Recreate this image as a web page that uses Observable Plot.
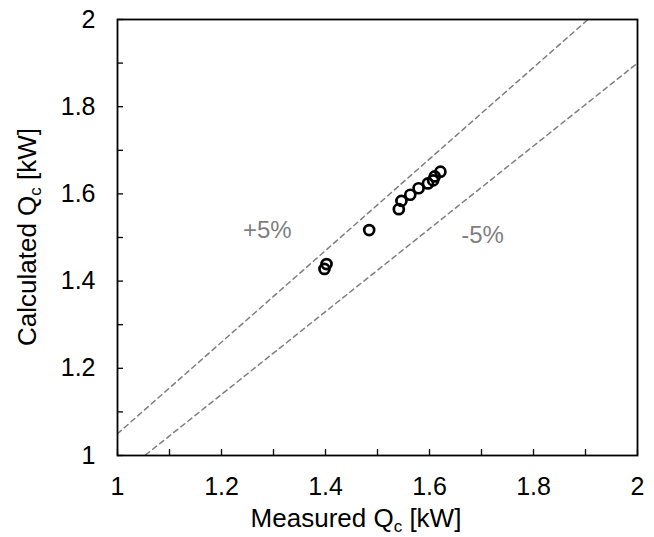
<!DOCTYPE html>
<html><head><meta charset="utf-8">
<script src="https://cdn.jsdelivr.net/npm/d3@7"></script>
<script src="https://cdn.jsdelivr.net/npm/@observablehq/plot@0.6"></script>
<style>body{margin:0;background:#fff}</style>
</head><body><div id="chart"></div>
<script>
const measured = [1.398, 1.402, 1.484, 1.541, 1.546, 1.563, 1.579, 1.597, 1.607, 1.610, 1.621];
const calculated = [1.428, 1.439, 1.517, 1.565, 1.584, 1.598, 1.613, 1.624, 1.631, 1.640, 1.651];
const refX = [1, 2];
const upperY = [1.05, 2.1];
const lowerY = [0.95, 1.9];
const bandLabels = ["+5%", "-5%"];
const bandLabelX = [1.288, 1.702];
const bandLabelY = [1.517, 1.506];
const majorTicks = [1, 1.2, 1.4, 1.6, 1.8, 2];
const minorTicks = d3.range(0, 11).map(i => 1 + i / 10);

const pts = measured.map((m, i) => ({m, c: calculated[i]}));
const font = "Liberation Sans, Arial, sans-serif";

const chart = Plot.plot({
  width: 654, height: 537,
  marginLeft: 117, marginRight: 17, marginTop: 19, marginBottom: 82,
  style: {fontFamily: font, fontSize: "25px", color: "#000", background: "#fff"},
  x: {domain: [1, 2]},
  y: {domain: [1, 2]},
  marks: [
    Plot.line(refX.map((x, i) => ({x, y: upperY[i]})), {x: "x", y: "y", stroke: "#7f7f7f", strokeWidth: 1.5, strokeDasharray: "5,4", clip: true}),
    Plot.line(refX.map((x, i) => ({x, y: lowerY[i]})), {x: "x", y: "y", stroke: "#7f7f7f", strokeWidth: 1.5, strokeDasharray: "5,4", clip: true}),
    Plot.text(bandLabels.map((t, i) => ({t, x: bandLabelX[i], y: bandLabelY[i]})), {x: "x", y: "y", text: "t", fill: "#7f7f7f", fontSize: 24}),
    Plot.dot(pts, {x: "m", y: "c", r: 5, stroke: "#000", strokeWidth: 2.7, fill: "none"}),
    Plot.axisX({ticks: minorTicks, tickSize: -6, strokeWidth: 1.3, tickFormat: () => "", label: null}),
    Plot.axisY({ticks: minorTicks, tickSize: -6, strokeWidth: 1.3, tickFormat: () => "", label: null}),
    Plot.axisX({ticks: majorTicks, tickSize: 0, tickPadding: 22, tickFormat: d => String(+d.toFixed(1)), label: null, fontSize: 25}),
    Plot.axisY({ticks: majorTicks, tickSize: 0, tickPadding: 22, tickFormat: d => String(+d.toFixed(1)), label: null, fontSize: 25}),
    Plot.frame({stroke: "#000", strokeWidth: 1.8})
  ]
});
document.getElementById("chart").appendChild(chart);

const svg = d3.select(chart);
const xt = svg.append("text").attr("x", 356).attr("y", 527).attr("text-anchor", "middle")
  .attr("font-family", font).attr("font-size", 26).attr("fill", "#000");
xt.append("tspan").text("Measured Q");
xt.append("tspan").attr("font-size", 17).attr("dy", 5).text("c");
xt.append("tspan").attr("dy", -5).text(" [kW]");

const yt = svg.append("text").attr("transform", "translate(36,237) rotate(-90)").attr("text-anchor", "middle")
  .attr("font-family", font).attr("font-size", 26).attr("fill", "#000");
yt.append("tspan").text("Calculated Q");
yt.append("tspan").attr("font-size", 17).attr("dy", 5).text("c");
yt.append("tspan").attr("dy", -5).text(" [kW]");
</script></body></html>
